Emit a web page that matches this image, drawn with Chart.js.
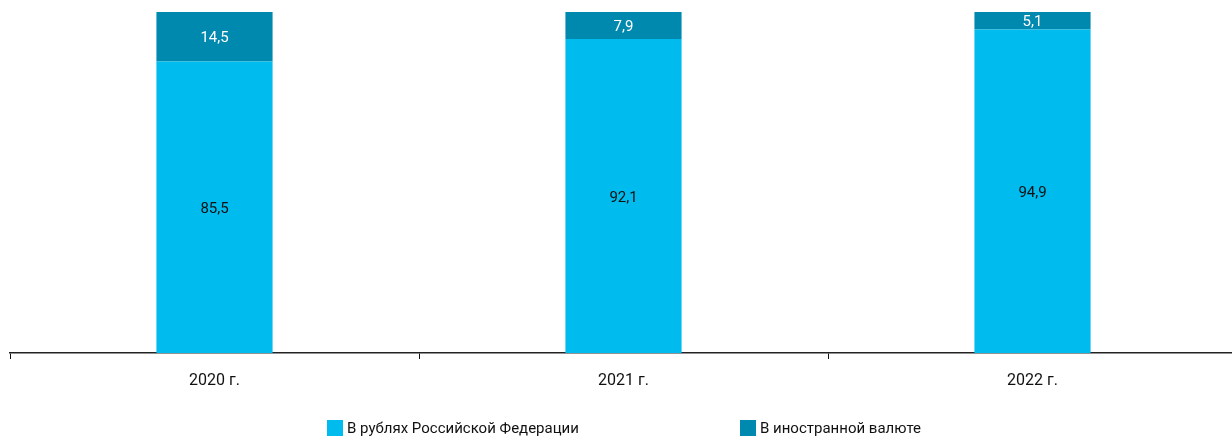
<!DOCTYPE html>
<html>
<head>
<meta charset="utf-8">
<script src="https://cdn.jsdelivr.net/npm/chart.js@4"></script>
<style>
  html, body { margin: 0; padding: 0; background: #fff; overflow: hidden; }
  #wrap { position: relative; width: 1232px; height: 436px; overflow: hidden; }
  #wrap canvas { position: absolute; left: 0; top: 0; }
  .legend { position: absolute; top: 419px; font-family: Roboto, sans-serif; font-size: 15px; color: #111; display: flex; align-items: center; white-space: nowrap; }
  .legend span.box { display: inline-block; width: 16px; height: 16px; margin-right: 4px; }
</style>
</head>
<body>
<div id="wrap">
  <canvas id="grafica" width="1240" height="436" style="width:1240px;height:436px"></canvas>
  <div class="legend" style="left:327px"><span class="box" style="background:#00BBEE"></span>В рублях Российской Федерации</div>
  <div class="legend" style="left:740px"><span class="box" style="background:#0089AF"></span>В иностранной валюте</div>
</div>
<script>
const labels = ['2020 г.', '2021 г.', '2022 г.'];
const rublos = [85.5, 92.1, 94.9];
const divisas = [14.5, 7.9, 5.1];

// etiquetas de valor en el centro de cada segmento
const etiquetas = {
  id: 'etiquetas',
  afterDatasetsDraw(chart) {
    const ctx = chart.ctx;
    ctx.save();
    ctx.font = '15px Roboto, sans-serif';
    ctx.textAlign = 'center';
    ctx.textBaseline = 'middle';
    chart.data.datasets.forEach((ds, i) => {
      chart.getDatasetMeta(i).data.forEach((bar, j) => {
        const y = (bar.y + bar.base) / 2 + 2;
        ctx.fillStyle = i === 0 ? '#111' : '#fff';
        ctx.fillText(String(ds.data[j]).replace('.', ','), bar.x, y);
      });
    });
    ctx.restore();
  }
};

const ctx = document.getElementById('grafica').getContext('2d');
new Chart(ctx, {
  type: 'bar',
  data: {
    labels: labels,
    datasets: [
      {
        label: 'В рублях Российской Федерации',
        data: rublos,
        backgroundColor: '#00BBEE',
        barPercentage: 0.284,
        categoryPercentage: 1
      },
      {
        label: 'В иностранной валюте',
        data: divisas,
        backgroundColor: '#0089AF',
        barPercentage: 0.284,
        categoryPercentage: 1
      }
    ]
  },
  options: {
    responsive: false,
    animation: false,
    layout: {
      padding: { top: 12, left: 10, right: 3, bottom: 0 }
    },
    scales: {
      x: {
        stacked: true,
        offset: true,
        afterFit(scale) { scale.height = 83; },
        grid: {
          offset: true,
          drawOnChartArea: false,
          tickLength: 6,
          color: '#111'
        },
        border: { color: '#222', width: 1.5 },
        ticks: {
          color: '#111',
          padding: 12,
          font: { family: 'Roboto, sans-serif', size: 16 }
        }
      },
      y: {
        stacked: true,
        display: false,
        min: 0,
        max: 100
      }
    },
    plugins: {
      legend: { display: false },
      tooltip: { enabled: false }
    }
  },
  plugins: [etiquetas]
});
</script>
</body>
</html>
